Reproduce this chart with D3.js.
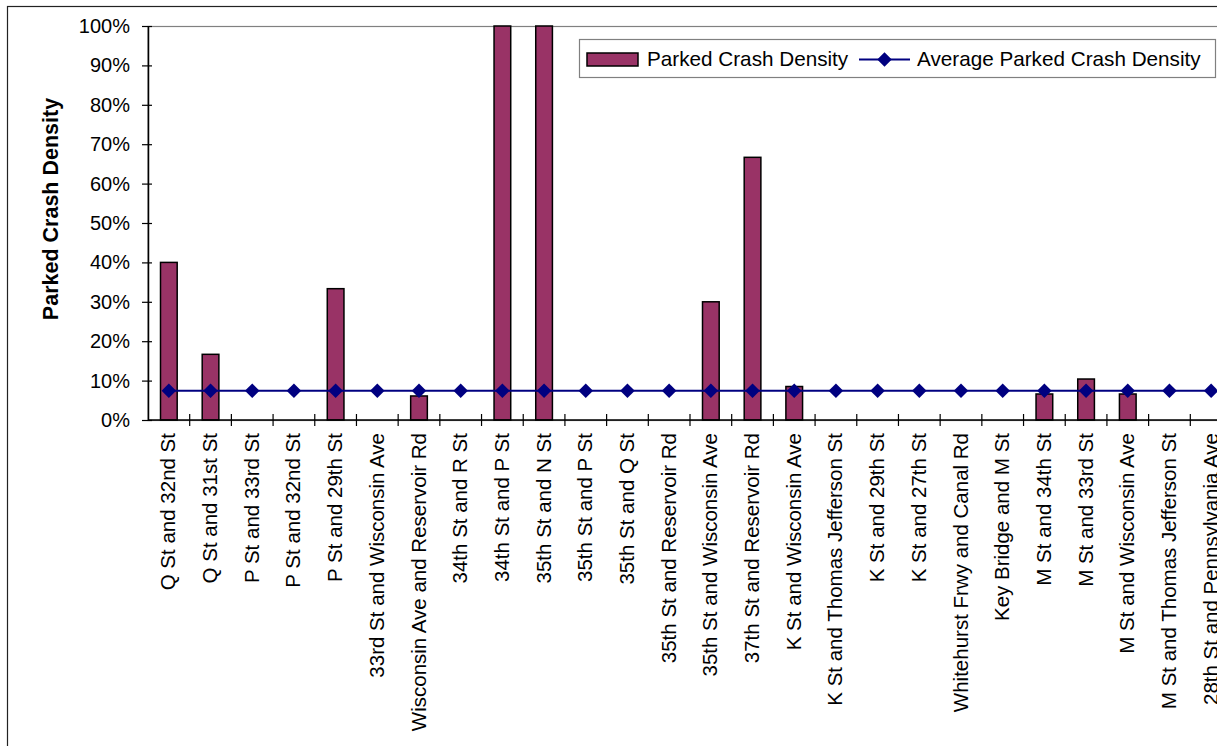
<!DOCTYPE html>
<html>
<head>
<meta charset="utf-8">
<script src="https://cdn.jsdelivr.net/npm/d3@7"></script>
<style>
  html, body { margin: 0; padding: 0; background: #fff; }
  svg { display: block; font-family: "Liberation Sans", Arial, sans-serif; }
</style>
</head>
<body>
<svg id="chart" width="1217" height="746"></svg>
<script>
// Intersections along the category axis
const categories = [
  "Q St and 32nd St", "Q St and 31st St", "P St and 33rd St", "P St and 32nd St",
  "P St and 29th St", "33rd St and Wisconsin Ave", "Wisconsin Ave and Reservoir Rd",
  "34th St and R St", "34th St and P St", "35th St and N St", "35th St and P St",
  "35th St and Q St", "35th St and Reservoir Rd", "35th St and Wisconsin Ave",
  "37th St and Reservoir Rd", "K St and Wisconsin Ave", "K St and Thomas Jefferson St",
  "K St and 29th St", "K St and 27th St", "Whitehurst Frwy and Canal Rd",
  "Key Bridge and M St", "M St and 34th St", "M St and 33rd St",
  "M St and Wisconsin Ave", "M St and Thomas Jefferson St", "28th St and Pennsylvania Ave"
];
// Parked crash density per intersection
const densityValues = [
  0.40, 0.1667, 0, 0, 0.3333, 0, 0.061, 0, 1.0, 1.0, 0, 0, 0, 0.30,
  0.6667, 0.085, 0, 0, 0, 0, 0, 0.066, 0.104, 0.066, 0, 0
];
// Average parked crash density (same for every intersection)
const averageDensity = 0.074;
const averageValues = categories.map(() => averageDensity);
const yTicks = [0, 0.1, 0.2, 0.3, 0.4, 0.5, 0.6, 0.7, 0.8, 0.9, 1.0];
const seriesNames = ["Parked Crash Density", "Average Parked Crash Density"];

const svg = d3.select("#chart");
const plot = { left: 148, right: 1232, top: 26, bottom: 420 };

// Outer chart frame
svg.append("rect")
  .attr("x", 7.5).attr("y", 6.5).attr("width", 1240).attr("height", 760)
  .attr("fill", "#fff").attr("stroke", "#222").attr("stroke-width", 1.2);

const x = d3.scaleBand().domain(categories).range([plot.left, plot.right]).padding(0);
const y = d3.scaleLinear().domain([0, 1]).range([plot.bottom, plot.top]);

// Plot-area border
svg.append("rect")
  .attr("x", plot.left).attr("y", plot.top + 0.5)
  .attr("width", plot.right - plot.left).attr("height", plot.bottom - plot.top)
  .attr("fill", "none").attr("stroke", "#808080").attr("stroke-width", 1.2);

// Bars
const barW = x.bandwidth() * 0.4;
svg.append("g").selectAll("rect")
  .data(categories.map((c, i) => ({ c, v: densityValues[i] })).filter(d => d.v > 0))
  .join("rect")
  .attr("x", d => x(d.c) + x.bandwidth() / 2 - barW / 2)
  .attr("y", d => y(d.v))
  .attr("width", barW)
  .attr("height", d => y(0) - y(d.v))
  .attr("fill", "#993366")
  .attr("stroke", "#000")
  .attr("stroke-width", 1.5);

// Average line with diamond markers
const line = d3.line()
  .x((d, i) => x(categories[i]) + x.bandwidth() / 2)
  .y(d => y(d));
svg.append("path")
  .datum(averageValues)
  .attr("d", line)
  .attr("fill", "none")
  .attr("stroke", "#000080")
  .attr("stroke-width", 2);

const diamond = d3.symbol().type(d3.symbolDiamond2).size(135);
svg.append("g").selectAll("path")
  .data(averageValues)
  .join("path")
  .attr("d", diamond)
  .attr("transform", (d, i) => `translate(${x(categories[i]) + x.bandwidth() / 2},${y(d)})`)
  .attr("fill", "#000080");

// Y axis
const yAxis = d3.axisLeft(y).tickValues(yTicks)
  .tickFormat(d3.format(".0%")).tickSize(0).tickPadding(18);
const gy = svg.append("g").attr("transform", `translate(${plot.left},0)`).call(yAxis);
gy.select(".domain").attr("stroke", "#000").attr("stroke-width", 1.5);
gy.selectAll(".tick text").attr("font-size", 20).attr("fill", "#000")
  .attr("font-family", "Liberation Sans, Arial, sans-serif");
gy.selectAll(".tick").append("line")
  .attr("x1", -6).attr("x2", 4).attr("stroke", "#000").attr("stroke-width", 1.2);

// X axis with crossing tick marks between categories
svg.append("line")
  .attr("x1", plot.left).attr("x2", plot.right)
  .attr("y1", plot.bottom).attr("y2", plot.bottom)
  .attr("stroke", "#000").attr("stroke-width", 1.5);
svg.append("g").selectAll("line")
  .data(categories.slice(1))
  .join("line")
  .attr("x1", d => x(d)).attr("x2", d => x(d))
  .attr("y1", plot.bottom - 6).attr("y2", plot.bottom + 6)
  .attr("stroke", "#000").attr("stroke-width", 1.2);

svg.append("g").selectAll("text")
  .data(categories)
  .join("text")
  .attr("transform", d => `translate(${x(d) + x.bandwidth() / 2 + 6.5},${plot.bottom + 13}) rotate(-90)`)
  .attr("text-anchor", "end")
  .attr("font-size", 20.5)
  .attr("fill", "#000")
  .text(d => d);

// Y axis title
svg.append("text")
  .attr("transform", `translate(58,209) rotate(-90)`)
  .attr("text-anchor", "middle")
  .attr("font-size", 21.5)
  .attr("font-weight", "bold")
  .attr("fill", "#000")
  .text("Parked Crash Density");

// Legend
const lg = svg.append("g");
lg.append("rect")
  .attr("x", 579.5).attr("y", 39.5).attr("width", 636).attr("height", 38)
  .attr("fill", "#fff").attr("stroke", "#808080").attr("stroke-width", 1.2);
lg.append("rect")
  .attr("x", 587).attr("y", 53).attr("width", 51).attr("height", 13)
  .attr("fill", "#993366").attr("stroke", "#000").attr("stroke-width", 1.5);
lg.append("text")
  .attr("x", 647).attr("y", 66).attr("font-size", 20.7).attr("fill", "#000")
  .text(seriesNames[0]);
lg.append("line")
  .attr("x1", 859).attr("x2", 910).attr("y1", 59.5).attr("y2", 59.5)
  .attr("stroke", "#000080").attr("stroke-width", 2);
lg.append("path")
  .attr("d", diamond)
  .attr("transform", "translate(884.5,59.5)")
  .attr("fill", "#000080");
lg.append("text")
  .attr("x", 917).attr("y", 66).attr("font-size", 20.7).attr("fill", "#000")
  .text(seriesNames[1]);
</script>
</body>
</html>
